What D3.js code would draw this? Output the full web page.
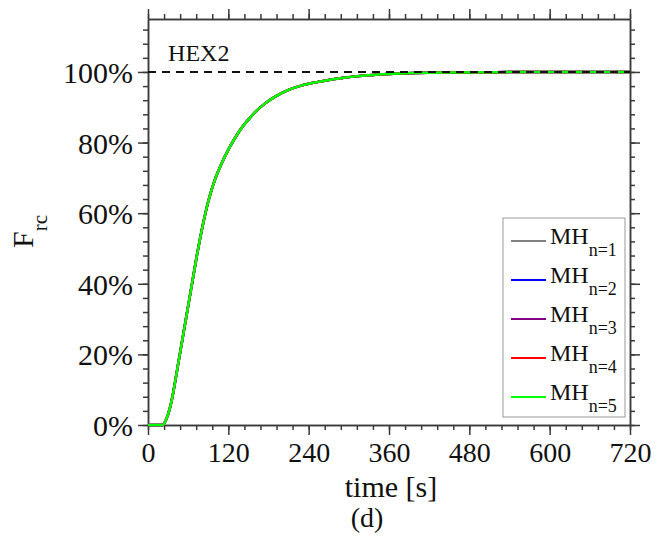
<!DOCTYPE html>
<html>
<head>
<meta charset="utf-8">
<script src="https://cdn.jsdelivr.net/npm/d3@7"></script>
<style>
  html, body { margin: 0; padding: 0; background: #fff; }
  svg text { font-family: "Liberation Serif", "DejaVu Serif", serif !important; fill: #111; }
  .axis path, .axis line { stroke: #3a3a3a; stroke-width: 1.5; }
</style>
</head>
<body>
<div id="chart"></div>
<script>
// data
const time = [0, 22, 27, 33, 38, 43, 48, 53, 58, 63, 68, 73, 78, 84, 90, 95, 100, 110, 120, 130, 140, 150, 160, 175, 190, 210, 230, 250, 270, 290, 310, 330, 360, 400, 450, 520, 600, 720];
const frc = [0, 0, 1.5, 5, 9.5, 15, 20.5, 26, 31.5, 37, 42.5, 48, 53, 58.5, 63.3, 66.6, 69.5, 74.1, 78, 81.3, 84.2, 86.5, 88.6, 91.1, 93, 94.9, 96.2, 97.05, 97.75, 98.3, 98.75, 99.1, 99.45, 99.7, 99.85, 99.95, 100, 100];
// the five runs lie on top of each other
const seriesNames = ["1", "2", "3", "4", "5"];
const seriesColors = ["#808080", "#0000ff", "#800080", "#ff0000", "#00ff00"];
const seriesValues = [frc, frc, frc, frc, frc];
const xTicks = [0, 120, 240, 360, 480, 600, 720];
const yTicks = [0, 20, 40, 60, 80, 100];
const refLevel = 100;

const width = 658, height = 537;
const margin = { top: 19, right: 28, bottom: 112, left: 148 };

const svg = d3.select("#chart").append("svg")
  .attr("width", width).attr("height", height)
  .attr("font-family", "Liberation Serif, DejaVu Serif, serif");

const x = d3.scaleLinear().domain([0, 720]).range([margin.left, width - margin.right]);
const y = d3.scaleLinear().domain([0, 115]).range([height - margin.bottom, margin.top]);

const minorX = d3.range(0, 721, 24);
const minorY = d3.range(0, 115, 4);

// axes: major + minor ticks on all four sides, pointing outward
function ticks(axisFn, scale, tr, values, size) {
  return svg.append("g").attr("class", "axis").attr("transform", tr)
    .call(axisFn(scale).tickValues(values).tickSize(size).tickSizeOuter(0).tickFormat(""));
}
ticks(d3.axisBottom, x, `translate(0,${y(0)})`, minorX, 5);
ticks(d3.axisTop, x, `translate(0,${y(115)})`, minorX, 5);
ticks(d3.axisTop, x, `translate(0,${y(115)})`, xTicks, 10);
ticks(d3.axisLeft, y, `translate(${x(0)},0)`, minorY, 5);
ticks(d3.axisRight, y, `translate(${x(720)},0)`, minorY, 5);
ticks(d3.axisRight, y, `translate(${x(720)},0)`, yTicks, 10);

const bottomMajor = svg.append("g").attr("class", "axis")
  .attr("transform", `translate(0,${y(0)})`)
  .call(d3.axisBottom(x).tickValues(xTicks).tickSize(10).tickSizeOuter(0).tickPadding(6).tickFormat(d3.format("d")));
bottomMajor.selectAll("text").style("font-size", "28px").attr("dy", "0.76em");

const leftMajor = svg.append("g").attr("class", "axis")
  .attr("transform", `translate(${x(0)},0)`)
  .call(d3.axisLeft(y).tickValues(yTicks).tickSize(10).tickSizeOuter(0).tickPadding(5).tickFormat(d => d + "%"));
leftMajor.selectAll("text").style("font-size", "30px").attr("dy", "0.35em");

// curves
const line = d3.line()
  .x((d, i) => x(time[i]))
  .y(d => y(d))
  .curve(d3.curveMonotoneX);

svg.selectAll(".run")
  .data(seriesValues)
  .enter().append("path")
  .attr("class", "run")
  .attr("d", d => line(d))
  .attr("fill", "none")
  .attr("stroke", (d, i) => seriesColors[i])
  .attr("stroke-width", 2.5);

// reference line, drawn over the curves
svg.append("line")
  .attr("x1", x(0)).attr("x2", x(720))
  .attr("y1", y(refLevel)).attr("y2", y(refLevel))
  .attr("stroke", "#111").attr("stroke-width", 2).attr("stroke-dasharray", "8,6");

svg.append("text").attr("x", x(30)).attr("y", y(103))
  .style("font-size", "24px").text("HEX2");

// axis titles
svg.append("text").attr("x", 391).attr("y", 497)
  .attr("text-anchor", "middle").style("font-size", "30px").text("time [s]");
svg.append("text").attr("x", 367).attr("y", 527)
  .attr("text-anchor", "middle").style("font-size", "28px").text("(d)");

const yTitle = svg.append("text")
  .attr("transform", "translate(33,248) rotate(-90)")
  .style("font-size", "30px");
yTitle.append("tspan").text("F");
yTitle.append("tspan").attr("dy", 14).style("font-size", "21px").text("rc");

// legend
const lg = svg.append("g").attr("transform", "translate(503,218)");
lg.append("rect").attr("width", 122).attr("height", 199)
  .attr("fill", "#fff").attr("stroke", "#999").attr("stroke-width", 1);

const items = lg.selectAll(".item").data(seriesNames).enter().append("g")
  .attr("transform", (d, i) => `translate(0,${23 + i * 39})`);
items.append("line").attr("x1", 8).attr("x2", 43)
  .attr("stroke", (d, i) => seriesColors[i]).attr("stroke-width", 2);
const lt = items.append("text").attr("x", 47).attr("y", 2.5).style("font-size", "24px");
lt.append("tspan").text("MH");
lt.append("tspan").attr("dy", 12).style("font-size", "18px").text(d => "n=" + d);
</script>
</body>
</html>
